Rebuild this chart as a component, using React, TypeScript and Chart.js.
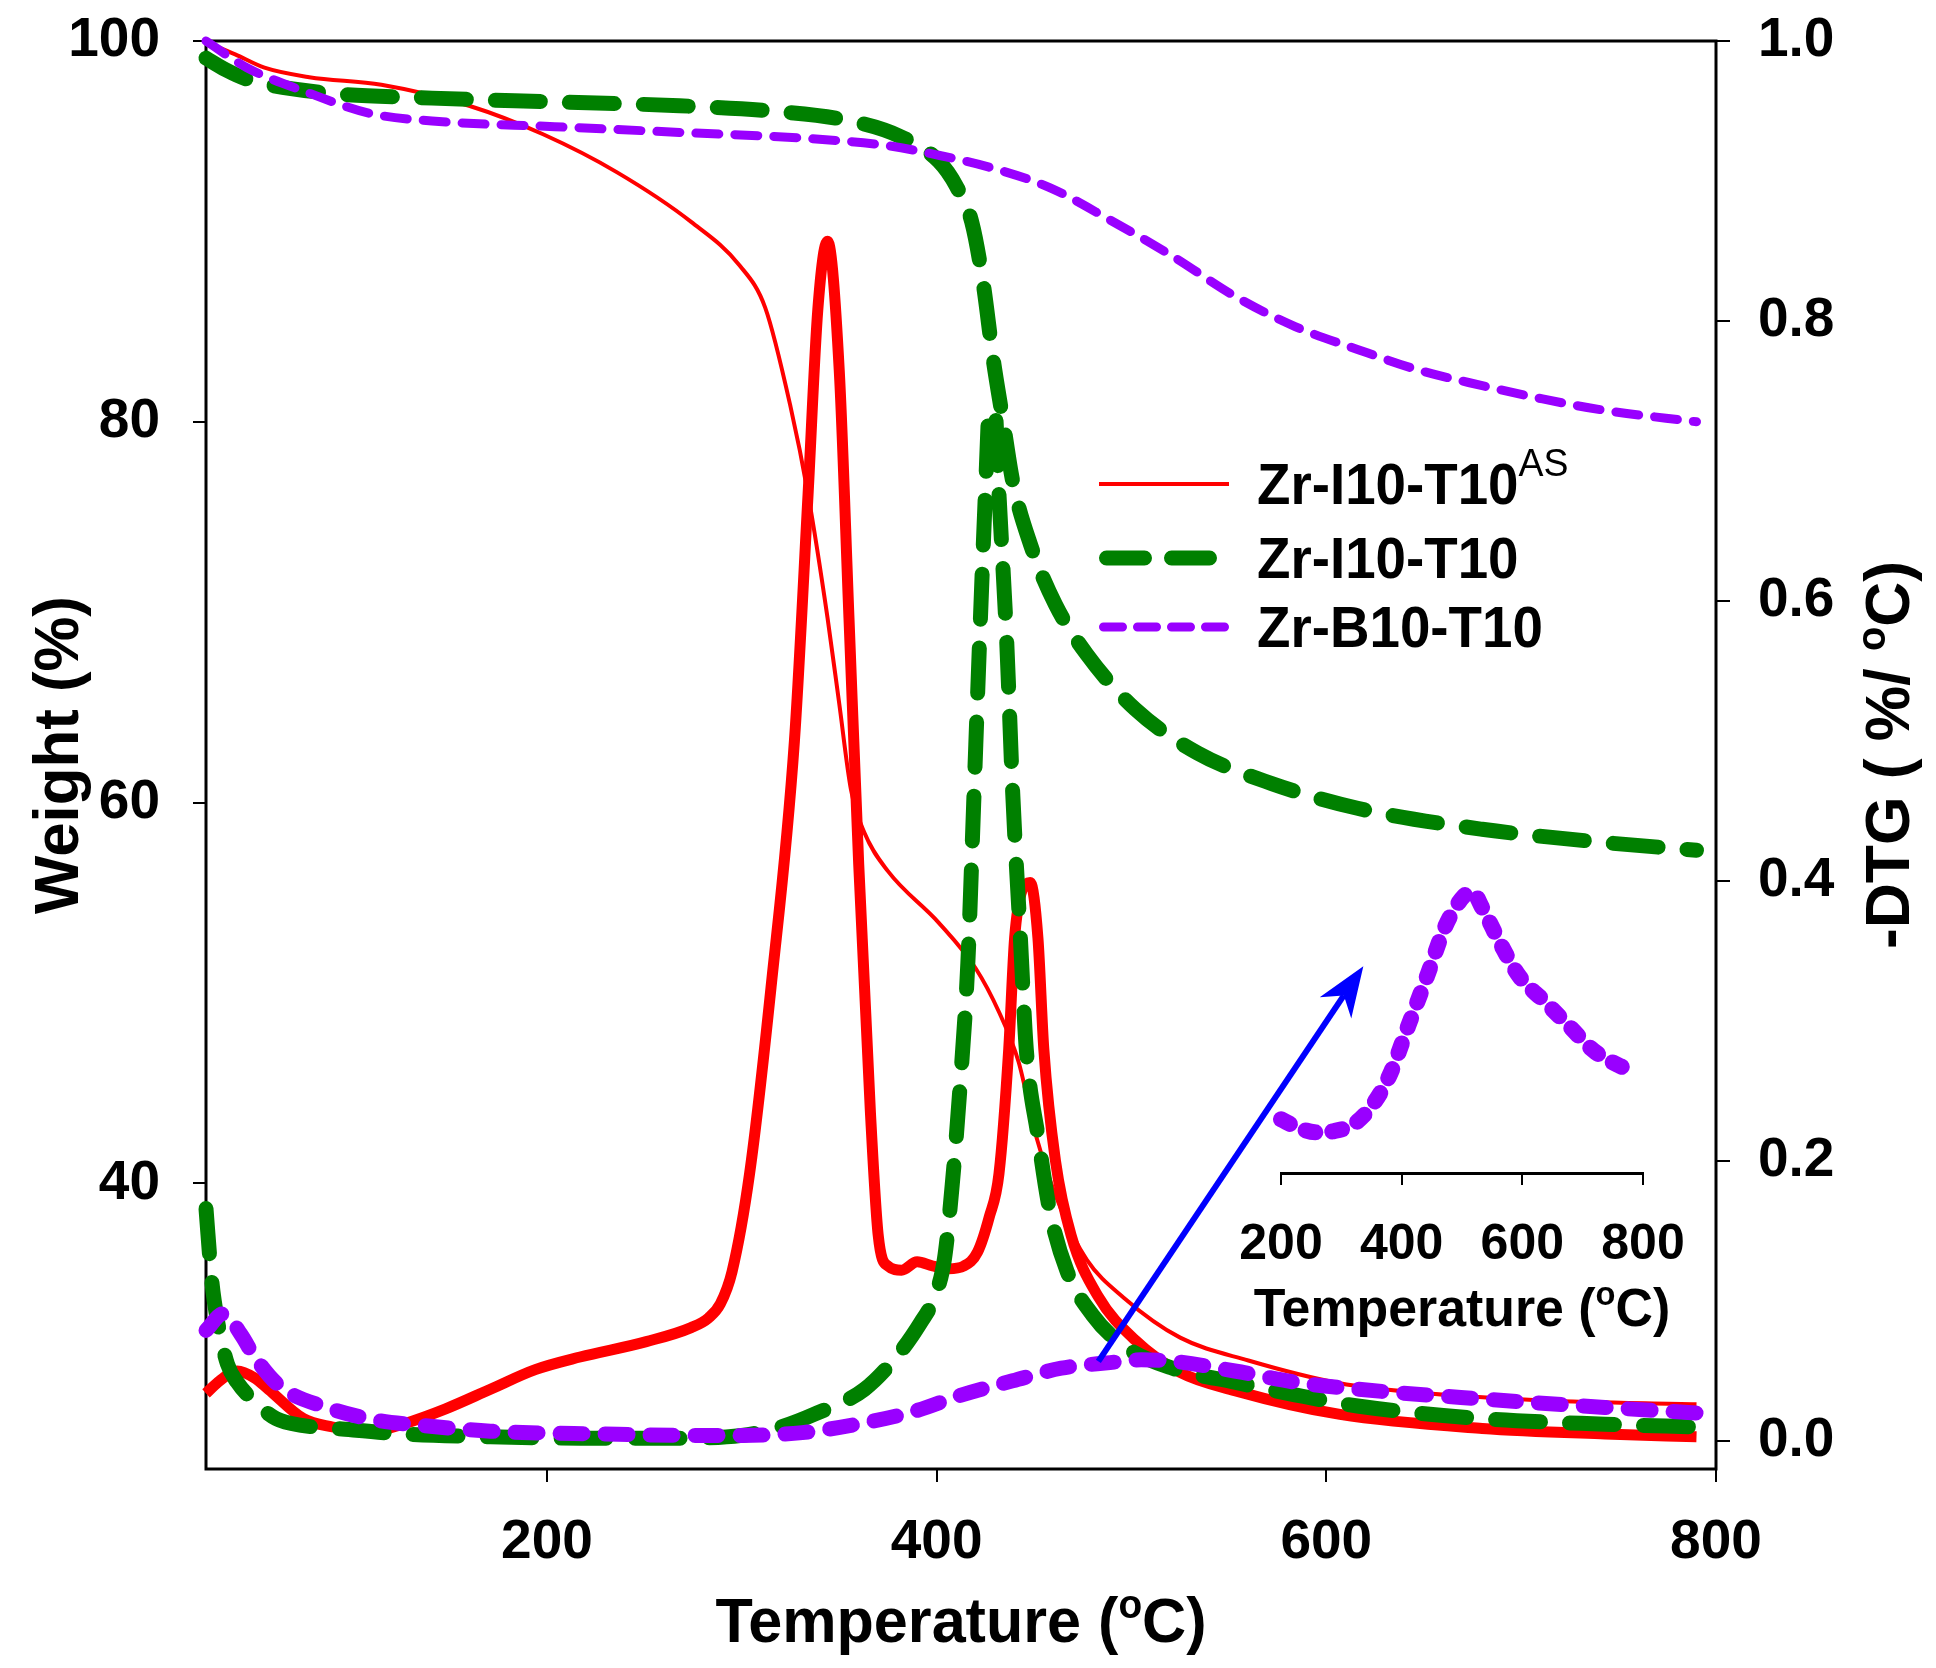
import React, { useEffect, useRef } from "react";
import { Chart, registerables } from "chart.js";

Chart.register(...registerables);

const FONT = "'Liberation Sans', Arial, Helvetica, sans-serif";

// ---------- data ----------
// Zr-I10-T10AS (red)
const redWeightT = [25, 40, 55, 78, 115, 160, 198, 236, 274, 299, 312, 325, 334, 344, 350, 356, 363, 375, 401, 420, 432, 442, 451, 464, 477, 496, 525, 560, 607, 648, 711, 790];
const redWeight = [99.95, 99.3, 98.6, 98.1, 97.7, 96.6, 95.1, 93.1, 90.5, 88.2, 86.0, 80.8, 76.2, 69.7, 65.2, 60.7, 58.4, 56.4, 53.7, 51.3, 49.0, 46.4, 42.5, 38.6, 36.0, 34.0, 31.9, 30.7, 29.5, 29.0, 28.6, 28.4];
const redDtgT = [25, 32, 41, 50, 57, 75, 90, 103, 115, 126, 148, 171, 194, 217, 251, 274, 283, 289, 295, 304, 315, 327, 334, 339, 344, 350, 355, 360, 366, 370, 375, 382, 390, 398, 406, 414, 421, 427, 432, 437, 440, 444, 448, 452, 455, 461, 469, 483, 502, 525, 553, 607, 680, 743, 790];
const redDtg = [0.034, 0.043, 0.05, 0.045, 0.037, 0.016, 0.01, 0.007, 0.008, 0.012, 0.023, 0.037, 0.051, 0.06, 0.071, 0.081, 0.088, 0.098, 0.121, 0.191, 0.324, 0.5, 0.676, 0.808, 0.857, 0.765, 0.588, 0.412, 0.235, 0.147, 0.125, 0.122, 0.128, 0.125, 0.123, 0.125, 0.135, 0.16, 0.191, 0.28, 0.359, 0.394, 0.399, 0.359, 0.28, 0.2, 0.147, 0.103, 0.072, 0.049, 0.036, 0.019, 0.009, 0.005, 0.003];

// Zr-I10-T10 (green)
const greenWeightT = [25, 35, 46, 84, 141, 204, 268, 318, 356, 381, 401, 410, 418, 424, 429, 434, 439, 448, 461, 477, 502, 534, 572, 616, 680, 743, 790];
const greenWeight = [99.1, 98.5, 98.0, 97.3, 97.0, 96.8, 96.6, 96.3, 95.8, 95.0, 93.7, 92.4, 90.5, 87.2, 83.3, 80.1, 76.9, 73.6, 70.4, 67.8, 64.9, 62.6, 61.0, 59.7, 58.6, 57.9, 57.5];
const greenDtgT = [25, 28, 31, 36, 41, 50, 61, 75, 91, 126, 171, 217, 268, 300, 320, 337, 363, 381, 392, 398, 404, 408, 412, 416, 419, 422, 425, 427, 430, 432, 436, 439, 443, 446, 452, 458, 467, 480, 496, 521, 553, 584, 616, 680, 743, 790];
const greenDtg = [0.166, 0.114, 0.085, 0.055, 0.042, 0.028, 0.016, 0.011, 0.009, 0.005, 0.003, 0.002, 0.002, 0.004, 0.01, 0.019, 0.037, 0.063, 0.085, 0.1, 0.13, 0.183, 0.253, 0.341, 0.455, 0.57, 0.676, 0.735, 0.735, 0.676, 0.57, 0.464, 0.359, 0.28, 0.218, 0.165, 0.121, 0.09, 0.068, 0.052, 0.042, 0.033, 0.025, 0.016, 0.012, 0.01];

// Zr-B10-T10 (purple)
const purpleWeightT = [25, 46, 77, 109, 141, 204, 268, 331, 375, 401, 426, 458, 489, 521, 553, 584, 616, 648, 680, 711, 743, 790];
const purpleWeight = [100, 98.6, 97.3, 96.2, 95.8, 95.5, 95.2, 94.9, 94.5, 94.0, 93.4, 92.3, 90.6, 88.7, 86.6, 85.0, 83.8, 82.7, 81.9, 81.2, 80.6, 80.0];
const purpleDtgT = [25, 34, 43, 50, 63, 87, 112, 137, 171, 229, 274, 300, 331, 363, 388, 413, 439, 464, 489, 505, 521, 553, 584, 616, 680, 743, 790];
const purpleDtg = [0.079, 0.091, 0.076, 0.06, 0.039, 0.024, 0.015, 0.011, 0.007, 0.005, 0.004, 0.004, 0.006, 0.013, 0.021, 0.033, 0.043, 0.052, 0.056, 0.058, 0.057, 0.05, 0.042, 0.037, 0.03, 0.024, 0.02];

// inset: Zr-B10-T10 DTG magnified
const insetT = [200, 227, 257, 288, 319, 350, 380, 411, 442, 472, 503, 517, 534, 565, 595, 636, 677, 718, 759, 780];
const insetDtg = [0.0058, 0.0039, 0.0027, 0.003, 0.0045, 0.0089, 0.0163, 0.0281, 0.0399, 0.0517, 0.059, 0.06, 0.0561, 0.0473, 0.0399, 0.034, 0.0281, 0.0222, 0.0187, 0.0175];

const xTicks = [200, 400, 600, 800];
const weightTicks = [40, 60, 80, 100];
const dtgTicks = [0, 0.2, 0.4, 0.6, 0.8, 1.0];
const insetTicks = [200, 400, 600, 800];

const legendNames = ["Zr-I10-T10", "Zr-I10-T10", "Zr-B10-T10"];
const legendSup = ["AS", "", ""];

// arrow annotation (temperature, weight %)
const arrowTail = [483, 30.65];
const arrowTip = [619, 51.4];

const RED = "#ff0000";
const GREEN = "#008000";
const PURPLE = "#9900ff";
const BLUE = "#0000ff";

type Part = { text: string; size: number; weight?: string; rise?: number };

function drawParts(ctx: CanvasRenderingContext2D, parts: Part[], x: number, y: number, align: "center" | "left", hScale = 1) {
  const widths = parts.map((p) => {
    ctx.font = `${p.weight || "bold"} ${p.size}px ${FONT}`;
    return ctx.measureText(p.text).width;
  });
  const total = widths.reduce((a, b) => a + b, 0);
  ctx.save();
  ctx.translate(x, y);
  ctx.scale(hScale, 1);
  ctx.textBaseline = "alphabetic";
  ctx.textAlign = "left";
  ctx.fillStyle = "#000";
  let cx = align === "center" ? -total / 2 : 0;
  parts.forEach((p, i) => {
    ctx.font = `${p.weight || "bold"} ${p.size}px ${FONT}`;
    ctx.fillText(p.text, cx, -(p.rise || 0));
    cx += widths[i];
  });
  ctx.restore();
}

function drawRotated(ctx: CanvasRenderingContext2D, parts: Part[], x: number, y: number, capOffset: number, hScale = 1) {
  ctx.save();
  ctx.translate(x, y);
  ctx.rotate(-Math.PI / 2);
  drawParts(ctx, parts, 0, capOffset, "center", hScale);
  ctx.restore();
}

const pts = (t: number[], v: number[]) => t.map((x, i) => ({ x, y: v[i] }));

const tickFont = { family: FONT, size: 55, weight: "bold" as const };

const zeroPad = (s: any) => {
  s.paddingTop = 0;
  s.paddingBottom = 0;
  s.paddingLeft = 0;
  s.paddingRight = 0;
};

export default function App() {
  const mainRef = useRef<HTMLCanvasElement>(null);
  const insetRef = useRef<HTMLCanvasElement>(null);

  useEffect(() => {
    const base = {
      type: "line" as const,
      pointRadius: 0,
      pointHoverRadius: 0,
      fill: false,
      cubicInterpolationMode: "monotone" as const,
      clip: false as any,
      borderJoinStyle: "round" as const,
    };

    const mainPlugin = {
      id: "decor",
      beforeDatasetsDraw(chart: any) {
        const { ctx, chartArea: a } = chart;
        ctx.save();
        ctx.strokeStyle = "#000";
        ctx.lineWidth = 3;
        ctx.strokeRect(a.left, a.top, a.right - a.left, a.bottom - a.top);
        ctx.restore();
      },
      afterDraw(chart: any) {
        const { ctx, chartArea: a, scales } = chart;
        // axis titles
        const cxm = (a.left + a.right) / 2;
        const cym = (a.top + a.bottom) / 2;
        drawParts(
          ctx,
          [
            { text: "Temperature (", size: 63 },
            { text: "o", size: 40, rise: 24 },
            { text: "C)", size: 63 },
          ],
          cxm,
          a.bottom + 173,
          "center",
          0.97
        );
        drawRotated(ctx, [{ text: "Weight (%)", size: 63 }], 56, cym, 22, 0.98);
        drawRotated(
          ctx,
          [
            { text: "-DTG ( %/ ", size: 63 },
            { text: "o", size: 40, rise: 24 },
            { text: "C)", size: 63 },
          ],
          1887,
          cym,
          22,
          0.99
        );

        // legend
        const rows = [484, 558, 627];
        const styles = [
          { color: RED, width: 4, dash: [] as number[] },
          { color: GREEN, width: 15, dash: [38, 27] },
          { color: PURPLE, width: 9, dash: [19, 15] },
        ];
        const lx1 = 1099;
        const lx2 = 1229;
        rows.forEach((ry, i) => {
          const s = styles[i];
          ctx.save();
          ctx.strokeStyle = s.color;
          ctx.lineWidth = s.width;
          ctx.lineCap = s.dash.length ? "round" : "butt";
          ctx.setLineDash(s.dash);
          ctx.beginPath();
          const off = s.dash.length ? s.width / 2 : 0;
          ctx.moveTo(lx1 + off, ry);
          ctx.lineTo(lx2 - off, ry);
          ctx.stroke();
          ctx.restore();
          const parts: Part[] = [{ text: legendNames[i], size: 57 }];
          if (legendSup[i]) parts.push({ text: legendSup[i], size: 39, weight: "normal", rise: 28 });
          drawParts(ctx, parts, 1257, ry + 20, "left", 0.96);
        });

        // arrow
        const x0 = scales.x.getPixelForValue(arrowTail[0]);
        const y0 = scales.yW.getPixelForValue(arrowTail[1]);
        const x1 = scales.x.getPixelForValue(arrowTip[0]);
        const y1 = scales.yW.getPixelForValue(arrowTip[1]);
        const ang = Math.atan2(y1 - y0, x1 - x0);
        const head = 50;
        const half = 19;
        const ux = Math.cos(ang);
        const uy = Math.sin(ang);
        ctx.save();
        ctx.strokeStyle = BLUE;
        ctx.fillStyle = BLUE;
        ctx.lineWidth = 6;
        ctx.beginPath();
        ctx.moveTo(x0, y0);
        ctx.lineTo(x1 - ux * head * 0.7, y1 - uy * head * 0.7);
        ctx.stroke();
        const bx = x1 - ux * head;
        const by = y1 - uy * head;
        const nx = x1 - ux * head * 0.7;
        const ny = y1 - uy * head * 0.7;
        ctx.beginPath();
        ctx.moveTo(x1, y1);
        ctx.lineTo(bx - uy * half, by + ux * half);
        ctx.lineTo(nx, ny);
        ctx.lineTo(bx + uy * half, by - ux * half);
        ctx.closePath();
        ctx.fill();
        ctx.restore();
      },
    };

    const main = new Chart(mainRef.current!, {
      type: "line",
      data: {
        datasets: [
          { ...base, label: "Zr-B10-T10 DTG", data: pts(purpleDtgT, purpleDtg), yAxisID: "yD", borderColor: PURPLE, borderWidth: 15, borderDash: [23, 22], borderCapStyle: "round", order: 1 },
          { ...base, label: "Zr-B10-T10", data: pts(purpleWeightT, purpleWeight), yAxisID: "yW", borderColor: PURPLE, borderWidth: 9, borderDash: [23, 16], borderCapStyle: "round", order: 2 },
          { ...base, label: "Zr-I10-T10 DTG", data: pts(greenDtgT, greenDtg), yAxisID: "yD", borderColor: GREEN, borderWidth: 15, borderDash: [45, 29], borderCapStyle: "round", order: 3 },
          { ...base, label: "Zr-I10-T10", data: pts(greenWeightT, greenWeight), yAxisID: "yW", borderColor: GREEN, borderWidth: 15, borderDash: [45, 29], borderCapStyle: "round", order: 4 },
          { ...base, label: "Zr-I10-T10AS", data: pts(redWeightT, redWeight), yAxisID: "yW", borderColor: RED, borderWidth: 4, order: 5 },
          { ...base, label: "Zr-I10-T10AS DTG", data: pts(redDtgT, redDtg), yAxisID: "yD", borderColor: RED, borderWidth: 11, order: 6 },
        ] as any,
      },
      options: {
        responsive: false,
        animation: false,
        devicePixelRatio: 1,
        events: [],
        layout: { padding: { top: 41, left: 0, right: 0, bottom: 0 } },
        plugins: { legend: { display: false }, tooltip: { enabled: false } },
        scales: {
          x: {
            type: "linear",
            position: "bottom",
            min: 25,
            max: 800,
            afterBuildTicks: (s: any) => {
              s.ticks = xTicks.map((v) => ({ value: v }));
            },
            afterFit: (s: any) => {
              s.height = 199;
              zeroPad(s);
            },
            border: { display: false },
            grid: { drawOnChartArea: false, drawTicks: true, tickLength: 13, color: "#000", lineWidth: 2 },
            ticks: { font: tickFont, color: "#000", padding: 28, autoSkip: false, maxRotation: 0, minRotation: 0, callback: (v: any) => String(v) },
          },
          yW: {
            type: "linear",
            position: "left",
            min: 25,
            max: 100,
            afterBuildTicks: (s: any) => {
              s.ticks = weightTicks.map((v) => ({ value: v }));
            },
            afterFit: (s: any) => {
              s.width = 206;
              zeroPad(s);
            },
            border: { display: false },
            grid: { drawOnChartArea: false, drawTicks: true, tickLength: 13, color: "#000", lineWidth: 2 },
            ticks: { font: tickFont, color: "#000", padding: 33, autoSkip: false, callback: (v: any) => String(v) },
          },
          yD: {
            type: "linear",
            position: "right",
            min: -0.02,
            max: 1.0,
            afterBuildTicks: (s: any) => {
              s.ticks = dtgTicks.map((v) => ({ value: v }));
            },
            afterFit: (s: any) => {
              s.width = 220;
              zeroPad(s);
            },
            border: { display: false },
            grid: { drawOnChartArea: false, drawTicks: true, tickLength: 14, color: "#000", lineWidth: 2 },
            ticks: { font: tickFont, color: "#000", padding: 28, autoSkip: false, callback: (v: any) => Number(v).toFixed(1) },
          },
        },
      } as any,
      plugins: [mainPlugin],
    });

    const insetPlugin = {
      id: "insetTitle",
      afterDraw(chart: any) {
        const { ctx, chartArea: a } = chart;
        drawParts(
          ctx,
          [
            { text: "Temperature (", size: 54 },
            { text: "o", size: 34, rise: 21 },
            { text: "C)", size: 54 },
          ],
          (a.left + a.right) / 2,
          a.bottom + 153,
          "center",
          0.96
        );
      },
    };

    const inset = new Chart(insetRef.current!, {
      type: "line",
      data: {
        datasets: [
          { ...base, label: "Zr-B10-T10 DTG inset", data: pts(insetT, insetDtg), borderColor: PURPLE, borderWidth: 16, borderDash: [10, 17], borderCapStyle: "round" },
        ] as any,
      },
      options: {
        responsive: false,
        animation: false,
        devicePixelRatio: 1,
        events: [],
        layout: { padding: { top: 50, left: 101, right: 77, bottom: 0 } },
        plugins: { legend: { display: false }, tooltip: { enabled: false } },
        scales: {
          x: {
            type: "linear",
            position: "bottom",
            min: 200,
            max: 800,
            afterBuildTicks: (s: any) => {
              s.ticks = insetTicks.map((v) => ({ value: v }));
            },
            afterFit: (s: any) => {
              s.height = 207;
              zeroPad(s);
            },
            border: { display: true, color: "#000", width: 3 },
            grid: { drawOnChartArea: false, drawTicks: true, tickLength: 12, color: "#000", lineWidth: 2 },
            ticks: { font: { family: FONT, size: 50, weight: "bold" }, color: "#000", padding: 30, autoSkip: false, maxRotation: 0, minRotation: 0, callback: (v: any) => String(v) },
          },
          y: { type: "linear", display: false, min: -0.007, max: 0.07 },
        },
      } as any,
      plugins: [insetPlugin],
    });

    return () => {
      main.destroy();
      inset.destroy();
    };
  }, []);

  return (
    <div style={{ position: "absolute", left: 0, top: 0, width: 1936, height: 1668, background: "#fff", overflow: "hidden" }}>
      <canvas ref={mainRef} width={1936} height={1668} style={{ position: "absolute", left: 0, top: 0, width: 1936, height: 1668 }} />
      <canvas ref={insetRef} width={540} height={580} style={{ position: "absolute", left: 1180, top: 800, width: 540, height: 580 }} />
    </div>
  );
}
